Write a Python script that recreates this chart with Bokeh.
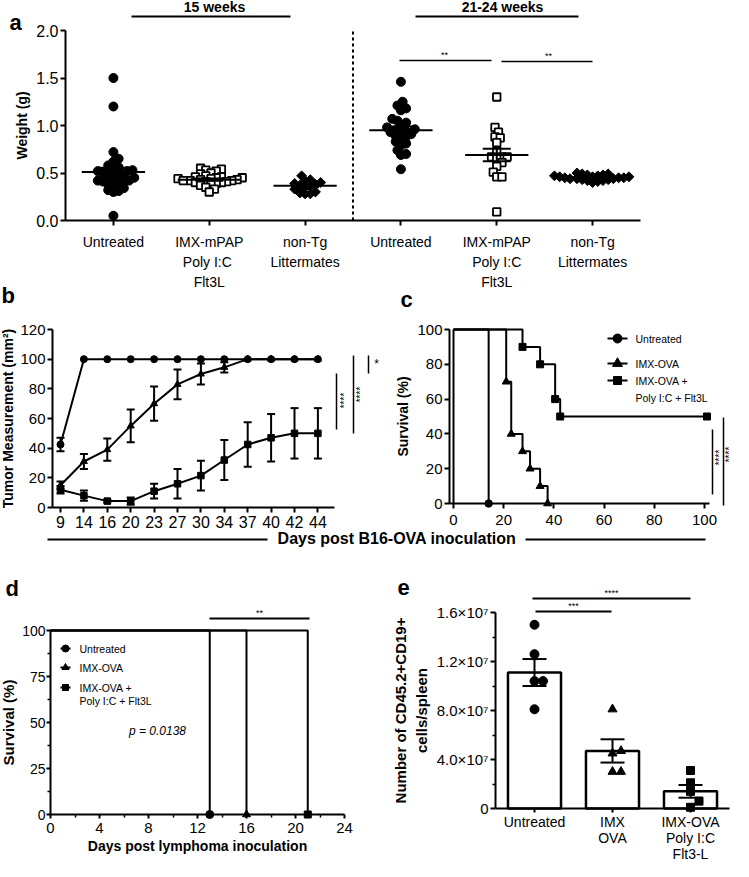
import math
from bokeh.plotting import figure
from bokeh.models import (Range1d, FixedTicker, Label, LinearAxis, NumeralTickFormatter)
from bokeh.embed import file_html
from bokeh.resources import INLINE

FONT = "Liberation Sans"

# ---------------- Panel a data ----------------
a_cats = ["Untreated", "IMX-mPAP\nPoly  I:C\nFlt3L", "non-Tg\nLittermates",
          "Untreated", "IMX-mPAP\nPoly I:C\nFlt3L", "non-Tg\nLittermates"]
a_w15_untreated = [1.50, 1.20, 0.72, 0.65, 0.62, 0.58, 0.56, 0.55, 0.53, 0.52, 0.52, 0.51,
                   0.50, 0.50, 0.49, 0.47, 0.45, 0.44, 0.43, 0.42, 0.42, 0.42, 0.41, 0.40,
                   0.38, 0.37, 0.36, 0.34, 0.32, 0.31, 0.30, 0.05]
a_w15_imx = [0.55, 0.54, 0.53, 0.52, 0.50, 0.49, 0.47, 0.46, 0.46, 0.45, 0.45, 0.44, 0.44,
             0.43, 0.43, 0.42, 0.42, 0.42, 0.41, 0.41, 0.40, 0.40, 0.39, 0.38, 0.37, 0.35,
             0.33, 0.30]
a_w15_nontg = [0.47, 0.43, 0.42, 0.40, 0.39, 0.38, 0.37, 0.36, 0.35, 0.33, 0.30, 0.29, 0.28, 0.28]
a_w21_untreated = [1.46, 1.25, 1.21, 1.18, 1.16, 1.07, 1.05, 1.03, 1.00, 0.98, 0.96, 0.95,
                   0.94, 0.93, 0.93, 0.91, 0.89, 0.88, 0.86, 0.83, 0.81, 0.79, 0.74, 0.70,
                   0.69, 0.54]
a_w21_imx = [1.30, 0.98, 0.93, 0.88, 0.87, 0.82, 0.73, 0.67, 0.67, 0.67, 0.66, 0.61, 0.57,
             0.51, 0.46, 0.46, 0.09]
a_w21_nontg = [0.50, 0.49, 0.49, 0.48, 0.48, 0.47, 0.47, 0.46, 0.46, 0.46, 0.45, 0.45, 0.45,
               0.44, 0.44, 0.44, 0.43, 0.43, 0.42, 0.42, 0.41, 0.40]
a_means = [0.51, 0.43, 0.365, 0.95, 0.69, 0.455]
a_sems = [0.045, 0.012, 0.015, 0.04, 0.065, 0.006]
a_yticks = [0.0, 0.5, 1.0, 1.5, 2.0]

# ---------------- Panel b data ----------------
b_days = [9, 14, 16, 20, 23, 27, 30, 34, 37, 40, 42, 44]
b_untreated = [42.5, 100, 100, 100, 100, 100, 100, 100, 100, 100, 100, 100]
b_untreated_err = [4.5, 0, 0, 0, 0, 0, 0, 0, 0, 0, 0, 0]
b_imx = [15, 31, 39, 55, 70, 83, 90, 94.5, 100, 100, 100, 100]
b_imx_err = [2.5, 5, 7.5, 11, 11.5, 10, 7, 3.5, 0, 0, 0, 0]
b_combo = [12, 8, 4.3, 4.3, 11, 16, 21.5, 32, 42.5, 47, 50, 50]
b_combo_err = [2.5, 3.5, 1, 2.5, 5, 10, 10, 13.5, 15, 16, 17, 17]
b_yticks = [0, 20, 40, 60, 80, 100, 120]

# ---------------- Panel c data ----------------
c_untreated_t = [14]
c_untreated_s = [0]
c_imx_t = [21, 23, 27.5, 30.5, 34.5, 37.5]
c_imx_s = [70, 40, 30, 20, 10, 0]
c_combo_t = [27.5, 34.5, 40.5, 42.5, 101]
c_combo_s = [90, 80, 60, 50, 50]
c_extra_drop_day = 0
c_ticks = [0, 20, 40, 60, 80, 100]
legend_labels = ["Untreated", "IMX-OVA", "IMX-OVA +", "Poly I:C + Flt3L"]

# ---------------- Panel d data ----------------
d_untreated_t = [13]
d_untreated_s = [0]
d_imx_t = [16]
d_imx_s = [0]
d_combo_t = [21]
d_combo_s = [0]
d_xticks = [0, 4, 8, 12, 16, 20, 24]
d_xminor = [2, 6, 10, 14, 18, 22]
d_yticks = [0, 25, 50, 75, 100]
d_yminor = [12.5, 37.5, 62.5, 87.5]

# ---------------- Panel e data ----------------
e_cats = ["Untreated", "IMX\nOVA", "IMX-OVA\nPoly I:C\nFlt3-L"]
e_means = [11.1e6, 4.7e6, 1.4e6]
e_sems = [1.1e6, 0.95e6, 0.52e6]
e_untreated = [15.0e6, 12.6e6, 10.4e6, 10.4e6, 8.1e6]
e_imx = [8.1e6, 4.7e6, 4.5e6, 3.0e6, 3.0e6]
e_combo = [3.1e6, 2.1e6, 1.4e6, 0.6e6, 0.1e6]
e_yticks = [0, 4000000, 8000000, 12000000, 16000000]
e_ytick_labels = ["0", "4.0×10⁷", "8.0×10⁷", "1.2×10⁷", "1.6×10⁷"]
e_yminor = [2e6, 6e6, 10e6, 14e6]

# ---------------- one page-sized figure; main ranges are page pixels ----------------
PX0, PX1, PY0, PY1 = 8, 741, 8, 869
p = figure(width=PX1 - PX0, height=PY1 - PY0, x_range=Range1d(PX0, PX1),
           y_range=Range1d(PY1, PY0), output_backend="svg", toolbar_location=None,
           x_axis_location=None, y_axis_location=None, min_border=0,
           min_border_left=0, min_border_right=0, min_border_top=0, min_border_bottom=0)
p.outline_line_color = None
p.grid.visible = False


def style_axis(ax, size):
    ax.axis_line_width = 2
    ax.axis_line_color = "black"
    ax.major_tick_line_width = 2
    ax.major_tick_line_color = "black"
    ax.major_tick_out = 5
    ax.major_tick_in = 0
    ax.minor_tick_line_width = 1.5
    ax.minor_tick_line_color = "black"
    ax.minor_tick_out = 3
    ax.minor_tick_in = 0
    ax.major_label_text_font = FONT
    ax.major_label_text_font_size = f"{size}px"
    ax.major_label_text_color = "black"
    ax.axis_label_text_font = FONT
    ax.axis_label_text_font_style = "bold"
    ax.axis_label_text_color = "black"
    ax.major_label_standoff = 2
    ax.axis_label_standoff = 3


class Panel:
    """Own x/y ranges; (data, page-pixel) pairs fix the scales."""

    def __init__(self, name, xref, yref):
        (dx1, ax1), (dx2, ax2) = xref
        (dy1, ay1), (dy2, ay2) = yref
        self.kx = (ax2 - ax1) / (dx2 - dx1)
        self.ky = (ay2 - ay1) / (dy2 - dy1)
        self.dx1, self.ax1, self.dy1, self.ay1 = dx1, ax1, dy1, ay1
        p.extra_x_ranges[name + "x"] = Range1d(self.x(PX0), self.x(PX1))
        p.extra_y_ranges[name + "y"] = Range1d(self.y(PY1), self.y(PY0))
        self.kw = dict(x_range_name=name + "x", y_range_name=name + "y")

    def x(self, A):
        return self.dx1 + (A - self.ax1) / self.kx

    def y(self, A):
        return self.dy1 + (A - self.ay1) / self.ky

    def axis(self, dim, loc, bounds, ticks, size, minor=None):
        ax = LinearAxis(fixed_location=loc, bounds=bounds, **self.kw)
        ax.ticker = FixedTicker(ticks=ticks, minor_ticks=minor or [])
        style_axis(ax, size)
        p.add_layout(ax, "below" if dim == "x" else "left")
        return ax

    def errbars(self, xs, lo, up, cap_px, w=2):
        hw = cap_px / 2.0 / self.kx
        x0 = list(xs) + [x - hw for x in xs] + [x - hw for x in xs]
        x1 = list(xs) + [x + hw for x in xs] + [x + hw for x in xs]
        y0 = list(lo) + list(up) + list(lo)
        y1 = list(up) + list(up) + list(lo)
        p.segment(x0=x0, y0=y0, x1=x1, y1=y1, line_color="black", line_width=w, **self.kw)


def text(ax, ay, t, size, style="normal", angle=0, align="center", baseline="middle"):
    p.add_layout(Label(x=ax, y=ay, text=t, text_font=FONT, text_font_size=f"{size}px",
                       text_font_style=style, text_align=align, text_baseline=baseline,
                       angle=angle, angle_units="deg", text_color="black"))


def line(ax0, ay0, ax1, ay1, w=1.5):
    p.segment(x0=[ax0], y0=[ay0], x1=[ax1], y1=[ay1], line_color="black", line_width=w)


def legend_entry(ax0, ax1, ay, marker, size, label, tx):
    if marker is not None:
        line(ax0, ay, ax1, ay, 2)
        p.scatter([(ax0 + ax1) / 2], [ay], marker=marker, size=size, fill_color="black",
                  line_color="black")
    text(tx, ay, label, 10.5, align="left")


def swarm(vals, center, sx, sy, d):
    placed = []
    xs = [0.0] * len(vals)
    order = sorted(range(len(vals)), key=lambda i: vals[i])
    step = d / 3.0
    cands = [0.0]
    for j in range(1, 300):
        cands += [j * step, -j * step]
    for i in order:
        y = vals[i] * sy
        chosen = 0.0
        for c in cands:
            if all((c - px) ** 2 + (y - py) ** 2 >= d * d for px, py in placed):
                chosen = c
                break
        placed.append((chosen, y))
        xs[i] = center + chosen / sx
    return xs


def steps(t, s, s0=100):
    xs, ys, prev = [0], [s0], s0
    for ti, si in zip(t, s):
        xs += [ti, ti]
        ys += [prev, si]
        prev = si
    return xs, ys


# =============== Panel a ===============
A = Panel("a", [(0.5, 73), (6.5, 648)], [(0, 228), (2, 38)])
axa = A.axis("x", 0, (0.5, 6.5), [1, 2, 3, 4, 5, 6], 14)
axa.major_label_overrides = {i + 1: c for i, c in enumerate(a_cats)}
axa.major_label_text_line_height = 1.25
axa.major_label_standoff = 8
aya = A.axis("y", 0.5, (0, 2), a_yticks, 16)
aya.formatter = NumeralTickFormatter(format="0.0")
aya.axis_label = "Weight (g)"
aya.axis_label_text_font_size = "14px"

p.segment(x0=[3.5], y0=[0], x1=[3.5], y1=[2], line_dash="3 3", line_width=2,
          line_color="black", **A.kw)

a_groups = [a_w15_untreated, a_w15_imx, a_w15_nontg, a_w21_untreated, a_w21_imx, a_w21_nontg]
for gi, vals in enumerate(a_groups):
    xs = swarm(vals, gi + 1, A.kx, -A.ky, 5.2)
    kind = gi % 3
    if kind == 0:
        p.scatter(xs, vals, marker="circle", size=9, fill_color="black", line_color="black",
                  **A.kw)
    elif kind == 1:
        p.scatter(xs, vals, marker="square", size=7.5, fill_color="white",
                  line_color="black", line_width=1.8, **A.kw)
    else:
        p.scatter(xs, vals, marker="square", size=7, angle=math.pi / 4,
                  fill_color="black", line_color="black", **A.kw)
    m, s = a_means[gi], a_sems[gi]
    c = gi + 1
    p.segment(x0=[c - 0.33], y0=[m], x1=[c + 0.33], y1=[m], line_color="black",
              line_width=2, **A.kw)
    A.errbars([c], [m - s], [m + s], 28)

line(407, 68, 499, 68, 1.5)
line(509, 69, 600, 69, 1.5)
text(452, 62, "**", 9)
text(556, 63, "**", 9)
line(139, 24, 298, 24, 2)
line(423, 24, 586, 24, 2)
text(222, 14, "15 weeks", 14, "bold")
text(510, 14, "21-24 weeks", 14, "bold")
text(17, 30, "a", 22, "bold", align="left", baseline="alphabetic")

# =============== Panel b ===============
B = Panel("b", [(0, 68), (11, 325.4)], [(0, 515), (120, 337)])
bx0, bx1 = B.x(60), B.x(342)
idx = list(range(len(b_days)))
axb = B.axis("x", 0, (bx0, bx1), idx, 16)
axb.major_label_overrides = {i: str(d) for i, d in zip(idx, b_days)}
axb.major_label_standoff = 3
ayb = B.axis("y", bx0, (0, 120), b_yticks, 15)
ayb.axis_label = "Tumor Measurement (mm²)"
ayb.axis_label_text_font_size = "14px"
ayb.axis_label_standoff = 1

for vals, errs, mk, sz in [(b_untreated, b_untreated_err, "circle", 7),
                           (b_imx, b_imx_err, "triangle", 7),
                           (b_combo, b_combo_err, "square", 6.5)]:
    p.line(idx, vals, line_color="black", line_width=2, **B.kw)
    p.scatter(idx, vals, marker=mk, size=sz, fill_color="black", line_color="black", **B.kw)
    keep = [i for i in idx if errs[i] > 0]
    B.errbars(keep, [vals[i] - errs[i] for i in keep], [vals[i] + errs[i] for i in keep], 8)

line(344, 381, 344, 437, 1.5)
line(361, 363, 361, 441, 1.5)
line(376, 363, 376, 381, 1.5)
text(352, 408, "****", 10, angle=90)
text(368, 402, "****", 10, angle=90)
text(384, 371, "*", 12)
text(9, 303, "b", 22, "bold", align="left", baseline="alphabetic")
text(404.5, 546, "Days post B16-OVA inoculation", 16, "bold")
line(55, 547, 275, 547, 2)
line(533, 547, 713, 547, 2)

# =============== Panel c ===============
C = Panel("c", [(0, 461), (100, 712)], [(0, 511), (100, 337)])
cx0 = C.x(457)
axc = C.axis("x", 0, (cx0, C.x(717)), c_ticks, 15)
axc.major_label_standoff = 6
ayc = C.axis("y", cx0, (0, 100), c_ticks, 15)
ayc.axis_label = "Survival (%)"
ayc.axis_label_text_font_size = "14px"

c_marks = [("circle", 7.5), ("triangle", 8), ("square", 7)]
for (t, s), (mk, sz) in zip([(c_untreated_t, c_untreated_s), (c_imx_t, c_imx_s),
                              (c_combo_t, c_combo_s)], c_marks):
    xs, ys = steps(t, s)
    p.line(xs, ys, line_color="black", line_width=2, **C.kw)
    p.scatter(t, s, marker=mk, size=sz, fill_color="black", line_color="black", **C.kw)
p.segment(x0=[c_extra_drop_day], y0=[0], x1=[c_extra_drop_day], y1=[100],
          line_color="black", line_width=2, **C.kw)
for ay, (mk, sz), lab in zip([346, 371, 388], [("circle", 9), ("triangle", 10), ("square", 8)],
                             legend_labels[:3]):
    legend_entry(615, 635, ay, mk, sz, lab, 643)
legend_entry(615, 635, 405, None, 0, legend_labels[3], 643)

line(720, 437, 720, 502, 1.5)
line(731, 425, 731, 513, 1.5)
text(726.5, 465, "****", 10, angle=90)
text(736.5, 462, "****", 10, angle=90)
text(408, 307, "c", 22, "bold", align="left", baseline="alphabetic")

# =============== Panel d ===============
D = Panel("d", [(0, 58), (24, 352)], [(0, 822), (100, 638)])
axd = D.axis("x", 0, (0, 24), d_xticks, 15, d_xminor)
ayd = D.axis("y", 0, (0, 100), d_yticks, 14, d_yminor)
for ax in (axd, ayd):
    ax.major_tick_out = 4
    ax.major_label_standoff = 1
axd.major_label_standoff = 4
ayd.axis_label = "Survival (%)"
ayd.axis_label_text_font_size = "15px"
ayd.axis_label_standoff = 2

d_marks = [("circle", 8), ("triangle", 8), ("square", 7)]
for (t, s), (mk, sz) in zip([(d_untreated_t, d_untreated_s), (d_imx_t, d_imx_s),
                              (d_combo_t, d_combo_s)], d_marks):
    xs, ys = steps(t, s)
    p.line(xs, ys, line_color="black", line_width=2, **D.kw)
    p.scatter(t, s, marker=mk, size=sz, fill_color="black", line_color="black", **D.kw)
for ay, (mk, sz), lab in zip([656, 675, 695], [("circle", 7), ("triangle", 7), ("square", 6)],
                             legend_labels[:3]):
    legend_entry(68, 78, ay, mk, sz, lab, 87)
legend_entry(68, 78, 708, None, 0, legend_labels[3], 87)

line(217, 626, 317, 626, 2)
text(267, 620, "**", 9)
text(165, 738, "p = 0.0138", 12, "italic")
text(205, 853, "Days post lymphoma inoculation", 14, "bold")
text(13, 596, "d", 22, "bold", align="left", baseline="alphabetic")

# =============== Panel e ===============
E = Panel("e", [(0, 503), (3, 737)], [(0, 816), (16e6, 620)])
ex = [0.5, 1.5, 2.5]
axe = E.axis("x", 0, (0, 3), ex, 14)
axe.major_label_overrides = {x: c for x, c in zip(ex, e_cats)}
axe.major_label_text_line_height = 1.0
axe.major_tick_out = 4
axe.major_label_standoff = 1
aye = E.axis("y", 0, (0, 16e6), e_yticks, 15, e_yminor)
aye.major_label_overrides = {v: l for v, l in zip(e_yticks, e_ytick_labels)}
aye.axis_label = "Number of CD45.2+CD19+\ncells/spleen"
aye.axis_label_text_font_size = "15px"
aye.axis_label_standoff = 4

p.vbar(x=ex, top=e_means, width=0.68, fill_color="white", line_color="black",
       line_width=2.5, **E.kw)
for xc, vals, mk, sz in [(0.5, e_untreated, "circle", 9), (1.5, e_imx, "triangle", 9),
                         (2.5, e_combo, "square", 8)]:
    xs = swarm(vals, xc, E.kx, -E.ky, 8.5)
    p.scatter(xs, vals, marker=mk, size=sz, fill_color="black", line_color="black", **E.kw)
E.errbars(ex, [m - s for m, s in zip(e_means, e_sems)],
          [m + s for m, s in zip(e_means, e_sems)], 24)
line(543, 619, 619, 619, 2)
line(540, 606, 698, 606, 2)
text(581, 613, "***", 9)
text(619, 600, "****", 9)
text(405, 595, "e", 22, "bold", align="left", baseline="alphabetic")

open("out.html", "w").write(file_html(p, INLINE))
